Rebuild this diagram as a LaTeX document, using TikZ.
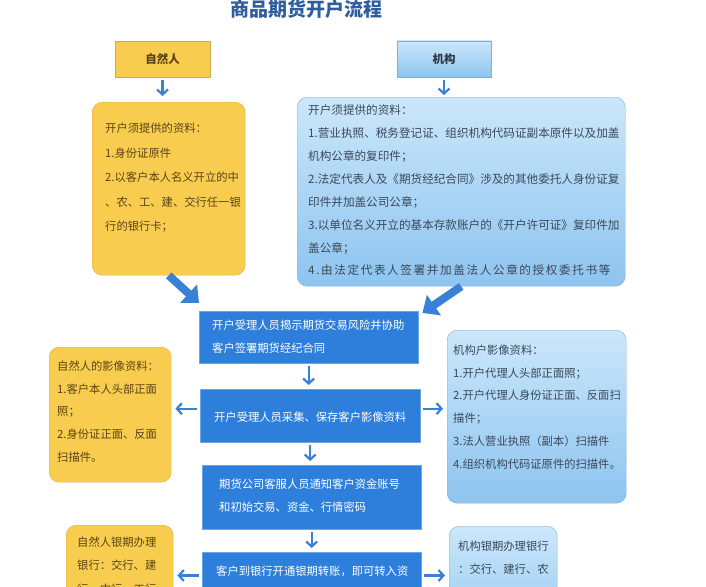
\documentclass[tikz,border=0pt]{standalone}
\usepackage{fontspec}
\setmainfont{Noto Sans CJK SC}
\usepackage{tikz}
\usetikzlibrary{positioning}
\usetikzlibrary{arrows.meta}

\definecolor{goldfill}{HTML}{F8CC4E}
\definecolor{goldline}{HTML}{E0B24A}
\definecolor{goldtext}{HTML}{5A4416}
\definecolor{skytop}{HTML}{CBE7FB}
\definecolor{skybottom}{HTML}{8DC4EF}
\definecolor{skyline}{HTML}{86AED3}
\definecolor{skytext}{HTML}{3A4859}
\definecolor{deepblue}{HTML}{2E7FDC}
\definecolor{deepline}{HTML}{6AA5E8}
\definecolor{arrowblue}{HTML}{3A80D6}
\definecolor{titleblue}{HTML}{2F5E9E}

\begin{document}
\begin{tikzpicture}[x=1pt, y=-1pt,
	goldbox/.style={draw=goldline, fill=goldfill, text=goldtext, rounded corners=10pt, anchor=north west, inner ysep=0pt, align=left},
	skybox/.style={draw=skyline, top color=skytop, bottom color=skybottom, text=skytext, rounded corners=10pt, anchor=north west, inner ysep=0pt, align=left},
	deepbox/.style={draw=deepline, fill=deepblue, text=white, anchor=north west, inner ysep=0pt, align=left},
	flowarrow/.style={draw=arrowblue, line width=2.2pt, -{Straight Barb[length=5pt,width=11pt]}, shorten <=3pt, shorten >=4pt},
	bigarrow/.style={draw=arrowblue, line width=8pt, -{Triangle[length=14pt,width=24pt]}}
	]
	
	\fill [white] (0,0) rectangle (706,586);
	\useasboundingbox (0,0) rectangle (706,586);
	
	\node [font=\fontsize{19}{19}\selectfont\bfseries, text=titleblue] (TITLE) at (306,9) {商品期货开户流程};
	
	\node [draw=goldline!80!gray, fill=goldfill, text=goldtext, font=\fontsize{11.5}{12}\selectfont\bfseries, minimum width=95pt, minimum height=36pt] (ZR) at (162.5,59) {自然人};
	\node [draw=skyline, top color=skytop, bottom color=skybottom, text=skytext!80!black, font=\fontsize{11.5}{12}\selectfont\bfseries, minimum width=94pt, minimum height=36pt] (JG) at (444,59) {机构};
	
	\node [goldbox, font=\fontsize{11.3}{24.5}\selectfont, inner xsep=13pt, text width=127pt, text height=30.3pt, text depth=142.7pt] (ZRDOC) at (92,102) {开户须提供的资料：\\1.身份证原件\\2.以客户本人名义开立的中\\、农、工、建、交行任一银\\行的银行卡；};
	\node [skybox, font=\fontsize{11.6}{22.9}\selectfont, inner xsep=11pt, text width=306pt, text height=17.4pt, text depth=171.6pt] (JGDOC) at (297,97) {开户须提供的资料：\\1.营业执照、税务登记证、组织机构代码证副本原件以及加盖\\机构公章的复印件；\\2.法定代表人及《期货经纪合同》涉及的其他委托人身份证复\\印件并加盖公司公章；\\3.以单位名义开立的基本存款账户的《开户许可证》复印件加\\盖公章；\\{\addfontfeature{LetterSpace=14}4.由法定代表人签署并加盖法人公章的授权委托书等}};
	
	\draw [flowarrow, shorten >=6pt] (ZR.south) -- (ZR.south |- ZRDOC.north);
	\draw [flowarrow, shorten >=2pt] (JG.south) -- (JG.south |- JGDOC.north);
	
	\node [deepbox, font=\fontsize{11.3}{23}\selectfont, inner xsep=13pt, text width=193pt, text height=18.3pt, text depth=33.7pt] (SIGN) at (199,311) {开户受理人员揭示期货交易风险并协助\\客户签署期货经纪合同};
	\node [deepbox, align=center, font=\fontsize{11.3}{23}\selectfont, inner xsep=10pt, text width=200pt, text height=32.3pt, text depth=20.7pt] (IMG) at (200,389) {开户受理人员采集、保存客户影像资料};
	\node [deepbox, font=\fontsize{11.3}{23.3}\selectfont, inner xsep=17pt, text width=185pt, text height=23.3pt, text depth=40.7pt] (NOTIFY) at (202,465) {期货公司客服人员通知客户资金账号\\和初始交易、资金、行情密码};
	\node [deepbox, font=\fontsize{11.3}{23}\selectfont, inner xsep=14pt, text width=191pt, text height=23.3pt, text depth=60pt] (BANK) at (202,552) {客户到银行开通银期转账，即可转入资};
	
	\draw [bigarrow] (ZRDOC.south) -- ([yshift=8pt]SIGN.north west);
	\draw [bigarrow] (JGDOC.south) -- ([xshift=4pt,yshift=-2pt]SIGN.north east);
	
	\draw [flowarrow] (SIGN.south) -- (SIGN.south |- IMG.north);
	\draw [flowarrow] (IMG.south) -- (IMG.south |- NOTIFY.north);
	\draw [flowarrow] (NOTIFY.south) -- (NOTIFY.south |- BANK.north);
	
	\node [goldbox, font=\fontsize{11.3}{22.7}\selectfont, inner xsep=8pt, text width=106pt, text height=23.3pt, text depth=111.7pt] (ZRIMG) at (49,347) {自然人的影像资料：\\1.客户本人头部正面\\照；\\2.身份证正面、反面\\扫描件。};
	\node [skybox, font=\fontsize{11.3}{22.7}\selectfont, inner xsep=6pt, text width=167pt, text height=24.3pt, text depth=148.7pt] (JGIMG) at (447,330) {机构户影像资料：\\1.开户代理人头部正面照；\\2.开户代理人身份证正面、反面扫\\描件；\\3.法人营业执照（副本）扫描件\\4.组织机构代码证原件的扫描件。};
	\node [goldbox, font=\fontsize{11.3}{23.3}\selectfont, inner xsep=11pt, text width=85pt, text height=21.3pt, text depth=100pt] (ZRBANK) at (66,525) {自然人银期办理\\银行：交行、建\\行、中行、工行};
	\node [skybox, font=\fontsize{11.3}{23}\selectfont, inner xsep=9pt, text width=90pt, text height=24.3pt, text depth=100pt] (JGBANK) at (449,526) {机构银期办理银行\\：交行、建行、农};
	
	\draw [flowarrow] ([yshift=7pt]IMG.west) -- ([yshift=7pt]IMG.west -| ZRIMG.east);
	\draw [flowarrow] ([yshift=7pt]IMG.east) -- ([yshift=7pt]IMG.east -| JGIMG.west);
	\draw [flowarrow] (BANK.base west) -- (BANK.base west -| ZRBANK.east);
	\draw [flowarrow] (BANK.base east) -- (BANK.base east -| JGBANK.west);
	
\end{tikzpicture}
\end{document}
